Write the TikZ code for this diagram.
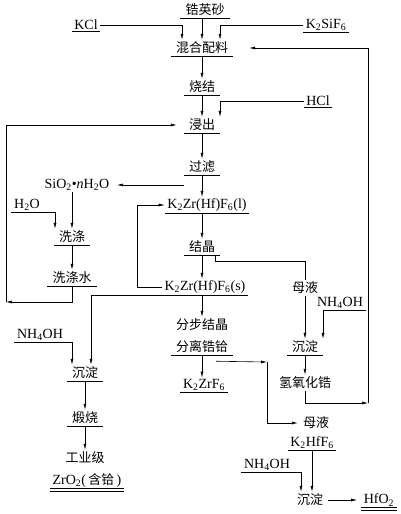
\documentclass[tikz,border=0pt]{standalone}
\usepackage{fontspec}
\setmainfont{Liberation Serif}
\newfontfamily\cjk{Noto Sans CJK SC}
\usetikzlibrary{arrows.meta, positioning, calc}

\begin{document}
\begin{tikzpicture}[x=1pt, y=-1pt,
    zh/.style={font=\cjk\fontsize{13}{15}\selectfont, inner xsep=5pt, inner ysep=2pt},
    chem/.style={font=\fontsize{14}{16}\selectfont, inner xsep=2.5pt, inner ysep=1.5pt},
    flow/.style={-{Latex[length=6pt,width=3pt]}, line width=0.6pt},
    plain/.style={line width=0.6pt}]
    \useasboundingbox (0,0) rectangle (400,514);

    % main column
    \node [zh] (zircon) at (205,10) {锆英砂};
    \node [chem] (kcl) at (86,25) {KCl};
    \node [chem] (ksif) at (326,25) {K\textsubscript{2}SiF\textsubscript{6}};
    \node [zh] (mix) at (202,48) {混合配料};
    \node [zh] (sinter) at (202,87) {烧结};
    \node [chem] (hcl) at (318,101) {HCl};
    \node [zh] (leach) at (202,125) {浸出};
    \node [zh] (filt) at (202,167) {过滤};
    \node [chem] (liq) at (207,205) {K\textsubscript{2}Zr(Hf)F\textsubscript{6}(l)};
    \node [zh] (cryst) at (202,247) {结晶};
    \node [chem] (solid) at (205,287) {K\textsubscript{2}Zr(Hf)F\textsubscript{6}(s)};
    \node [zh] (frac1) at (202,325) {分步结晶};
    \node [zh] (frac2) at (202,347) {分离锆铪};
    \node [chem] (kzr) at (204,385) {K\textsubscript{2}ZrF\textsubscript{6}};

    % washing branch
    \node [chem] (sio) at (77,185) {SiO\textsubscript{2}\textbullet\textit{n}H\textsubscript{2}O};
    \node [chem] (water) at (27,205) {H\textsubscript{2}O};
    \node [zh] (wash) at (72,237) {洗涤};
    \node [zh] (washw) at (72,278) {洗涤水};

    % zirconium branch
    \node [chem] (nhl) at (40,335) {NH\textsubscript{4}OH};
    \node [zh] (precl) at (85,373) {沉淀};
    \node [zh] (calc) at (85,418) {煅烧};
    \node [zh] (grade) at (85,458) {工业级};
    \node [chem] (zro) at (87,480) {ZrO\textsubscript{2}(\,{\cjk\fontsize{13}{15}\selectfont 含铪}\,)};

    % mother liquor branch
    \node [zh] (mother) at (305,288) {母液};
    \node [chem] (nhr) at (340,303) {NH\textsubscript{4}OH};
    \node [zh] (precr) at (305,347) {沉淀};
    \node [zh] (hydr) at (305,383) {氢氧化锆};

    % hafnium branch
    \node [zh] (mother2) at (316,423) {母液};
    \node [chem] (khf) at (312,443) {K\textsubscript{2}HfF\textsubscript{6}};
    \node [chem] (nhb) at (267,465) {NH\textsubscript{4}OH};
    \node [zh] (precb) at (310,500) {沉淀};
    \node [chem] (hfo) at (379,500) {HfO\textsubscript{2}};

    % underlines
    \foreach \n in {zircon,kcl,ksif,mix,sinter,hcl,leach,filt,liq,cryst,solid,frac2,kzr,
        wash,washw,precl,calc,zro,precr,khf,hfo}
        \draw [plain] (\n.south west) -- (\n.south east);
    \foreach \n in {zro,hfo}
        \draw [plain] ([yshift=-2.5pt]\n.south west) -- ([yshift=-2.5pt]\n.south east);

    % connectors
    \draw [flow] (mix |- zircon.south) -- (mix);
    \draw [flow] (kcl.east) -| ([xshift=-20pt]mix.north);
    \draw [flow] (ksif.west) -| ([xshift=18pt]mix.north);
    \draw [flow] (mix) -- (sinter);
    \draw [flow] (sinter) -- (leach);
    \draw [flow] (hcl.west) -| ([xshift=18pt]leach.north);
    \draw [flow] (leach) -- (filt);
    \draw [flow, shorten >=5pt] (filt.south west |- sio.east) -- (sio.east);
    \draw [flow] (filt) -- (filt |- liq.north);
    \draw [flow] (liq.south -| cryst) -- (cryst);
    \draw [flow] (cryst) -- (cryst |- solid.north);
    \draw [flow] (solid.west) -- ++(-25,0) |- (liq.west);
    \draw [flow] (solid.south -| frac1) -- (frac1);
    \draw [flow] (frac2) -- (frac2 |- kzr.north);

    \draw [flow] (sio.south -| wash) -- (wash);
    \draw [flow] (water.south west) -| ([xshift=-17pt]wash.north);
    \draw [flow] (wash) -- (washw);
    \coordinate (lcorner) at (6,302);
    \draw [flow] (washw.south) |- (lcorner);
    \draw [flow, shorten >=7pt] (lcorner) |- (leach.west);

    \draw [flow] (solid.south west) -| ([xshift=6pt]precl.north);
    \draw [flow] (nhl.south west) -| ([xshift=-13pt]precl.north);
    \draw [flow] (precl) -- (calc);
    \draw [flow] (calc) -- (grade);

    \draw [plain] ([xshift=-5pt]cryst.south east) -- ++(0,6) -| (mother.north);
    \draw [flow] (mother) -- (precr);
    \draw [flow] (nhr.south east) -| ([xshift=18pt]precr.north);
    \draw [flow] (precr) -- (hydr);
    \coordinate (rcorner) at (368,403);
    \draw [flow] (hydr.south) |- (rcorner);
    \draw [flow, shorten >=16pt] (rcorner) |- (mix.east);

    \coordinate (fcorner) at (267,362);
    \draw [flow] ([xshift=-17pt]frac2.south east) ++(0,6) -- (fcorner);
    \draw [flow] (fcorner) |- (mother2.west);
    \draw [flow] (khf) -- (khf |- precb.north);
    \draw [flow] (nhb.south west) -| ([xshift=-9pt]precb.north);
    \draw [flow, shorten >=4pt] (precb) -- (hfo);
\end{tikzpicture}
\end{document}
